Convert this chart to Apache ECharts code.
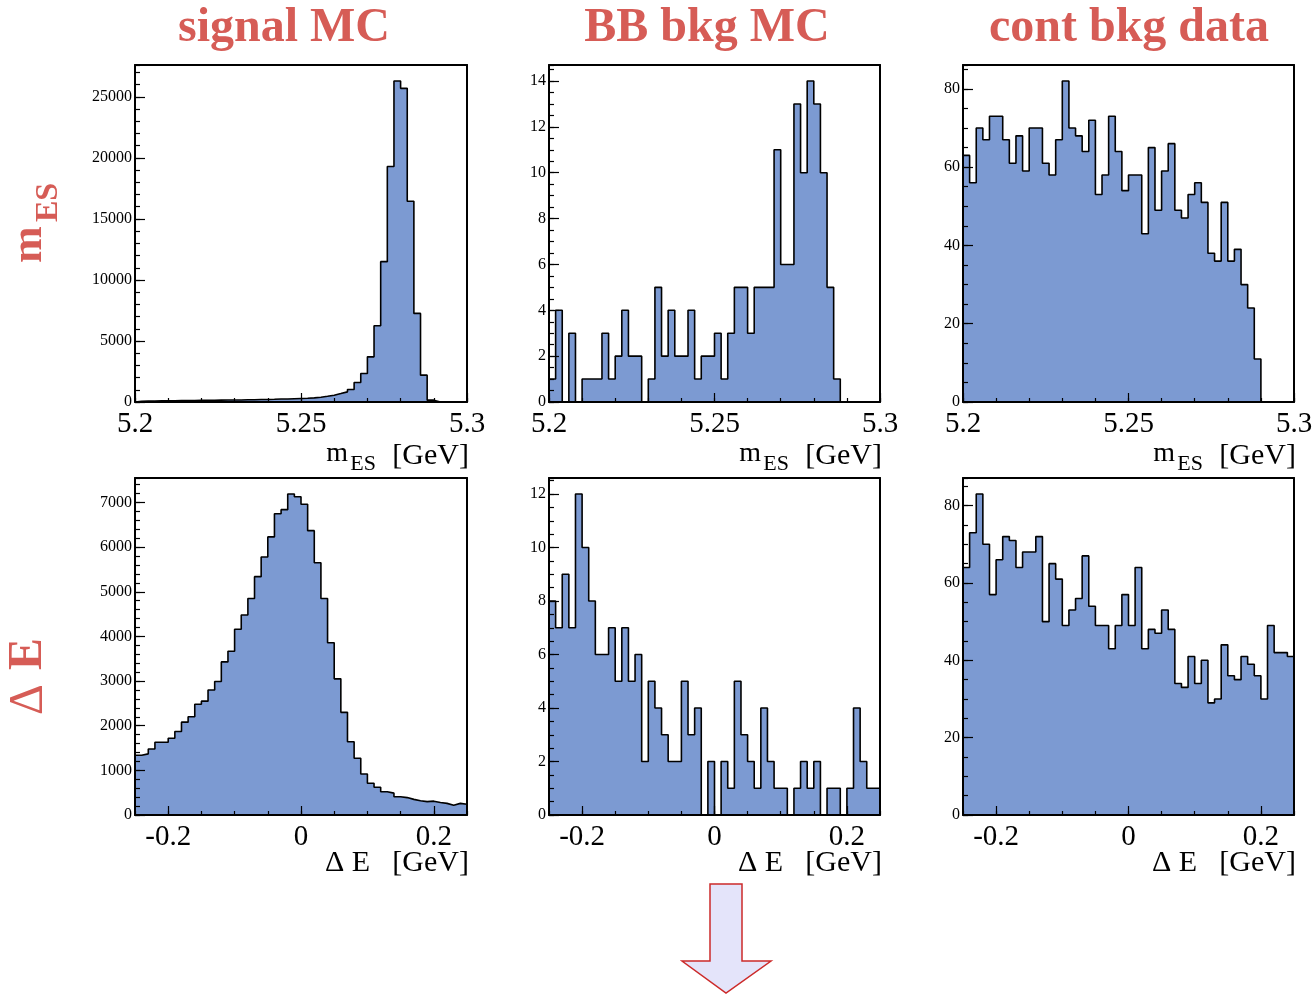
<!DOCTYPE html>
<html><head><meta charset="utf-8">
<script src="https://cdn.jsdelivr.net/npm/echarts@6/dist/echarts.min.js"></script>
<style>html,body{margin:0;padding:0;background:#fff}#c{width:1313px;height:994px}</style>
</head><body><div id="c"></div>
<script>
// ---- data (bin contents) ----
const mesMin = 5.2, mesMax = 5.3, mesBinWidth = 0.002;
const deMin = -0.25, deMax = 0.25, deBinWidth = 0.01;
const mesTickLabels = [5.2, 5.25, 5.3];
const deTickLabels = [-0.2, 0, 0.2];
const columnTitles = ['signal MC', 'BB bkg MC', 'cont bkg data'];

const sigMes = [60,70,80,90,90,100,110,110,120,130,130,140,150,160,160,170,180,190,200,210,220,240,250,270,290,310,340,390,470,560,690,830,1020,1600,2330,3700,6250,11500,19300,26300,25700,16450,7260,2200,150,0,0,0,0,0];
const bbMes = [1,4,0,3,0,1,1,1,3,1,2,4,2,2,0,1,5,2,4,2,2,4,1,2,2,3,1,3,5,5,3,5,5,5,11,6,6,13,10,14,13,10,5,1,0,0,0,0,0,0];
const contMes = [63,56,70,67,73,73,67,61,68,59,70,70,61,58,67,82,70,68,64,72,53,58,73,64,54,58,58,43,65,49,59,66,49,47,53,56,51,38,36,51,36,39,30,24,11,0,0,0,0,0];
const sigDe = [1340,1370,1480,1630,1630,1720,1870,2080,2200,2480,2550,2800,2990,3430,3670,4160,4480,4850,5340,5780,6230,6750,6840,7190,7130,6960,6370,5650,4850,3860,3050,2300,1640,1270,920,710,620,520,490,410,390,350,320,300,310,280,260,220,260,240];
const bbDe = [8,7,9,7,12,10,8,6,6,7,5,7,5,6,2,5,4,3,2,2,5,3,4,0,2,0,2,1,5,3,2,1,4,2,1,1,0,1,2,1,2,0,1,1,0,1,4,2,1,1];
const contDe = [64,73,83,70,57,66,72,71,64,68,68,72,50,65,61,49,53,56,67,54,49,49,43,49,57,49,64,43,48,47,53,48,34,33,41,34,40,29,30,44,36,35,41,39,36,30,49,42,42,41];

// ---- styling / layout ----
const SERIF = "'Liberation Serif','Times New Roman',serif";
const RED = '#d65c56';
const FILL = 'rgb(124,154,210)';
const colLeft = [135, 549, 963], colWidth = [332, 331, 331];
const rowTop = [65, 478], rowHeight = [337, 337];

const panels = [
  {values: sigMes, kind: 'mes', yStep: 5000, yMinor: 1000},
  {values: bbMes, kind: 'mes', yStep: 2, yMinor: 0.5},
  {values: contMes, kind: 'mes', yStep: 20, yMinor: 5},
  {values: sigDe, kind: 'de', yStep: 1000, yMinor: 200},
  {values: bbDe, kind: 'de', yStep: 2, yMinor: 0.5},
  {values: contDe, kind: 'de', yStep: 20, yMinor: 5}
];

function histPoints(values, x0, w) {
  const pts = [[x0, 0]];
  values.forEach((v, i) => pts.push([x0 + i * w, v]));
  const xe = x0 + values.length * w;
  pts.push([xe, values[values.length - 1]]);
  pts.push([xe, 0]);
  return pts;
}

const grids = [], xAxes = [], yAxes = [], series = [];
panels.forEach((p, idx) => {
  const r = Math.floor(idx / 3), c = idx % 3;
  grids.push({left: colLeft[c], top: rowTop[r], width: colWidth[c], height: rowHeight[r], outerBoundsMode: 'none', containLabel: false});
  const isMes = p.kind === 'mes';
  const xmin = isMes ? mesMin : deMin, xmax = isMes ? mesMax : deMax;
  const w = isMes ? mesBinWidth : deBinWidth;
  const xTicks = isMes ? mesTickLabels : deTickLabels;
  const xMinorStep = isMes ? 0.01 : 0.05;
  const ymax = Math.max(...p.values) * 1.05;
  const yTicks = [];
  for (let i = 0; i * p.yStep <= ymax; i++) yTicks.push(i * p.yStep);
  const line = {show: true, onZero: false, lineStyle: {color: '#000', width: 2}};
  const tickStyle = {color: '#000', width: 1.2};
  // x axes: main, minor, top frame
  xAxes.push({gridIndex: idx, type: 'value', position: 'bottom', min: xmin, max: xmax, z: 5,
    axisLine: line,
    axisTick: {show: true, inside: true, length: 9, customValues: xTicks, lineStyle: tickStyle},
    axisLabel: {show: true, customValues: xTicks, margin: 8, fontFamily: SERIF, fontSize: 29, color: '#000',
      formatter: v => String(Math.round(v * 1000) / 1000)},
    splitLine: {show: false}});
  xAxes.push({gridIndex: idx, type: 'value', position: 'bottom', min: xmin, max: xmax, interval: xMinorStep, z: 5,
    axisLine: {show: false, onZero: false},
    axisTick: {show: true, inside: true, length: 4, lineStyle: tickStyle},
    axisLabel: {show: false}, splitLine: {show: false}});
  xAxes.push({gridIndex: idx, type: 'value', position: 'top', min: xmin, max: xmax, z: 5,
    axisLine: line, axisTick: {show: false}, axisLabel: {show: false}, splitLine: {show: false}});
  // y axes: main, minor, right frame
  yAxes.push({gridIndex: idx, type: 'value', position: 'left', min: 0, max: ymax, z: 5,
    axisLine: line,
    axisTick: {show: true, inside: true, length: 10, customValues: yTicks, lineStyle: tickStyle},
    axisLabel: {show: true, customValues: yTicks, margin: 3, fontFamily: SERIF, fontSize: 16, color: '#000',
      formatter: v => String(Math.round(v))},
    splitLine: {show: false}});
  yAxes.push({gridIndex: idx, type: 'value', position: 'left', min: 0, max: ymax, interval: p.yMinor, z: 5,
    axisLine: {show: false, onZero: false},
    axisTick: {show: true, inside: true, length: 5, lineStyle: tickStyle},
    axisLabel: {show: false}, splitLine: {show: false}});
  yAxes.push({gridIndex: idx, type: 'value', position: 'right', min: 0, max: ymax, z: 5,
    axisLine: line, axisTick: {show: false}, axisLabel: {show: false}, splitLine: {show: false}});
  series.push({type: 'line', step: 'end', xAxisIndex: idx * 3, yAxisIndex: idx * 3,
    data: histPoints(p.values, xmin, w), symbol: 'none', showSymbol: false, silent: true,
    lineStyle: {color: '#000', width: 1.6}, areaStyle: {color: FILL, opacity: 1}, z: 2});
});

// ---- texts & arrow ----
const graphic = [];
const titleX = [284, 707, 1129];
columnTitles.forEach((t, i) => graphic.push({type: 'text', x: titleX[i], y: 29,
  style: {text: t, font: 'bold 48px ' + SERIF, fill: RED, align: 'center', verticalAlign: 'middle'}}));

function txt(x, baseline, text, size, align, weight) {
  return {type: 'text', x: x, y: baseline - 0.34 * size,
    style: {text: text, font: (weight || 'normal') + ' ' + size + 'px ' + SERIF, fill: '#000', align: align || 'right', verticalAlign: 'middle'}};
}
[0, 1, 2].forEach(c => {
  const R = colLeft[c] + colWidth[c] + 2;
  graphic.push(txt(R, 466, '[GeV]', 30));
  graphic.push(txt(R - 93, 472, 'ES', 22));
  graphic.push(txt(R - 121, 463, 'm', 28));
  graphic.push(txt(R, 873, '[GeV]', 30));
  graphic.push(txt(R - 99, 873, 'Δ E', 30));
});

// row labels (rotated)
graphic.push({type: 'group', x: 45, y: 263, rotation: Math.PI / 2, children: [
  {type: 'text', x: 0, y: -15, style: {text: 'm', font: 'bold 44px ' + SERIF, fill: RED, align: 'left', verticalAlign: 'middle'}},
  {type: 'text', x: 41, y: 4, style: {text: 'ES', font: 'bold 32px ' + SERIF, fill: RED, align: 'left', verticalAlign: 'middle'}}
]});
graphic.push({type: 'group', x: 45, y: 715, rotation: Math.PI / 2, children: [
  {type: 'text', x: 0, y: -16, style: {text: 'Δ', font: 'normal 48px ' + SERIF, fill: RED, align: 'left', verticalAlign: 'middle'}},
  {type: 'text', x: 45, y: -16, style: {text: 'E', font: 'bold 48px ' + SERIF, fill: RED, align: 'left', verticalAlign: 'middle'}}
]});

graphic.push({type: 'polygon', shape: {points: [[710, 884], [742, 884], [742, 961], [771, 961], [726, 993], [682, 961], [710, 961]]},
  style: {fill: 'rgb(228,228,250)', stroke: '#cc2a2a', lineWidth: 1.5}});

const chart = echarts.init(document.getElementById('c'), null, {renderer: 'canvas'});
chart.setOption({animation: false, backgroundColor: '#fff', grid: grids, xAxis: xAxes, yAxis: yAxes, series: series, graphic: graphic});
</script></body></html>
